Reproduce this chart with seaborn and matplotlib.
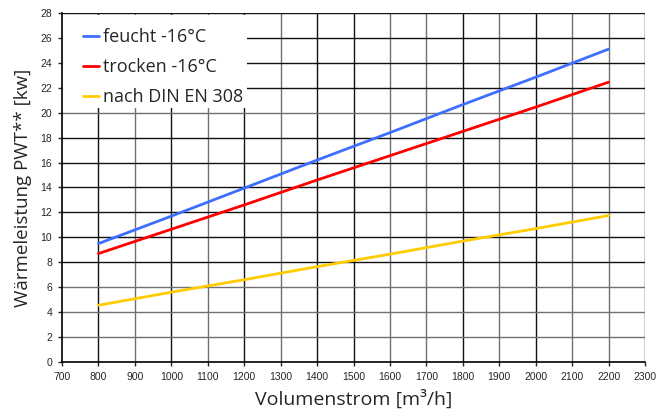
import matplotlib
matplotlib.use("Agg")
import matplotlib.pyplot as plt
from matplotlib.patches import Rectangle
import seaborn as sns
import pandas as pd

volumenstrom = [800, 1000, 1200, 1400, 1600, 1800, 2000, 2200]
feucht = [9.5, 11.7, 13.95, 16.2, 18.4, 20.65, 22.85, 25.1]
trocken = [8.7, 10.65, 12.6, 14.6, 16.55, 18.5, 20.45, 22.45]
din = [4.55, 5.6, 6.6, 7.65, 8.65, 9.7, 10.7, 11.75]
series_names = ["feucht -16°C", "trocken -16°C", "nach DIN EN 308"]
colors = ["#3d6fff", "#ff0000", "#ffcc00"]

rows = []
for name, vals in zip(series_names, [feucht, trocken, din]):
    for x, y in zip(volumenstrom, vals):
        rows.append({"Volumenstrom": x, "Leistung": y, "Serie": name})
df = pd.DataFrame(rows)

sns.set_style("white")
plt.rcParams['font.family'] = ['Liberation Sans', 'DejaVu Sans']

fig = plt.figure(figsize=(6.64, 4.16), dpi=100)
ax = fig.add_axes([0.0934, 0.1298, 0.878, 0.839])

# grid lines
xt = list(range(700, 2301, 100))
yt = list(range(0, 29, 2))
gray_x = {900, 1100, 1300, 1600, 1700, 1900, 2100, 2200}
gray_y = {2, 4, 6, 20}
for x in xt[1:]:
    ax.axvline(x, color="#707070" if x in gray_x else "#111111", lw=1.0, zorder=0)
for y in yt[1:]:
    ax.axhline(y, color="#707070" if y in gray_y else "#111111", lw=1.0, zorder=1 if y == 28 else 0)

sns.lineplot(data=df, x="Volumenstrom", y="Leistung", hue="Serie",
             palette=colors, hue_order=series_names, lw=2.0, ax=ax, zorder=3)

ax.set_xlim(700, 2300)
ax.set_ylim(0, 28)
ax.set_xticks(xt)
ax.set_yticks(yt)
ax.tick_params(axis="both", labelsize=7.5, length=3, width=1, direction="out",
               bottom=True, left=True, pad=4)
for s in ["top", "right"]:
    ax.spines[s].set_visible(False)
for s in ["left", "bottom"]:
    ax.spines[s].set_color("black")
    ax.spines[s].set_linewidth(1.2)

ax.set_xlabel("Volumenstrom [m³/h]", fontsize=14, family=["Open Sans", "DejaVu Sans"], labelpad=6)
ax.set_ylabel("Wärmeleistung PWT** [kw]", fontsize=13.5, family=["Open Sans", "DejaVu Sans"], labelpad=6)

# white legend background area
ax.add_patch(Rectangle((0.002, 0.727), 0.316, 0.268, transform=ax.transAxes,
                       facecolor="white", edgecolor="none", zorder=2, clip_on=False))

leg = ax.legend(loc="upper left", frameon=False,
                prop={"family": ["Open Sans", "DejaVu Sans"], "size": 13},
                handlelength=0.9, handletextpad=0.2, borderaxespad=0.0, labelspacing=0.66,
                borderpad=0.0, bbox_to_anchor=(0.036, 0.956))
leg.set_zorder(5)

fig.savefig("out.png", dpi=100)
